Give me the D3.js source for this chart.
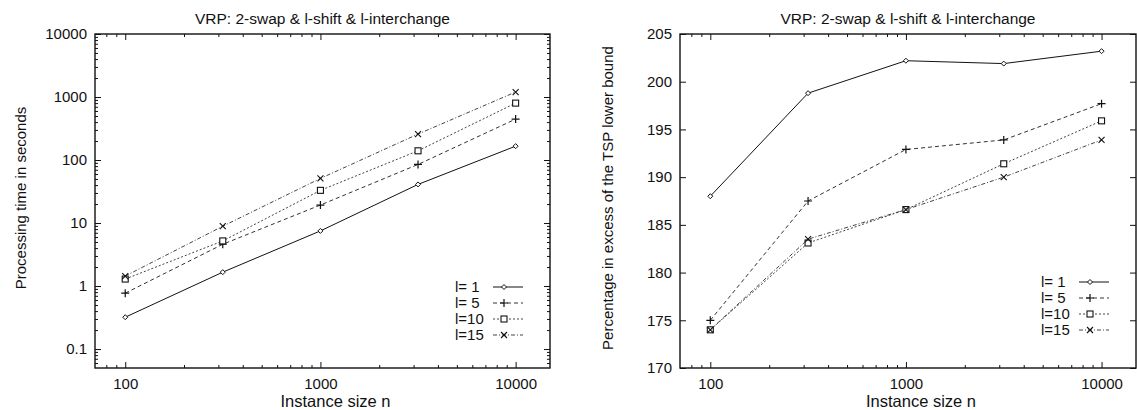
<!DOCTYPE html>
<html>
<head>
<meta charset="utf-8">
<script src="https://cdn.jsdelivr.net/npm/d3@7"></script>
<style>
  body { margin: 0; background: #fff; }
  text { font-family: "Liberation Sans", Arial, sans-serif; fill: #111; }
</style>
</head>
<body>
<svg id="chart" width="1137" height="410"></svg>
<script>
// instance sizes (x) and the four neighbourhood settings
var sizes = [100, 316, 1000, 3162, 10000];
var seriesNames = ["l= 1", "l= 5", "l=10", "l=15"];

// left panel: processing time in seconds
var timeL1 = [0.32, 1.66, 7.5, 41, 166];
var timeL5 = [0.77, 4.6, 19.3, 85, 446];
var timeL10 = [1.29, 5.2, 33, 140, 800];
var timeL15 = [1.44, 8.9, 51, 258, 1200];

// right panel: percentage in excess of the TSP lower bound
var excessL1 = [188, 198.8, 202.2, 201.9, 203.2];
var excessL5 = [175, 187.5, 192.9, 193.9, 197.7];
var excessL10 = [174, 183.1, 186.6, 191.4, 195.9];
var excessL15 = [174, 183.5, 186.6, 190, 193.9];

// tick labels
var sizeTicks = [100, 1000, 10000];
var timeTicks = [0.1, 1, 10, 100, 1000, 10000];
var excessTicks = [170, 175, 180, 185, 190, 195, 200, 205];

var svg = d3.select("#chart");
var plotTop = 34, plotBottom = 368;

// gnuplot-ish line types
var styles = [
  { dash: null, mark: "diamond", color: "#111" },
  { dash: "4,3", mark: "plus", color: "#333" },
  { dash: "2,2", mark: "square", color: "#444" },
  { dash: "4,2,1,2", mark: "cross", color: "#444" }
];

function minorLog(lo, hi) {
  var out = [];
  for (var e = -3; e <= 5; e++) {
    for (var d = 2; d <= 9; d++) {
      var v = d * Math.pow(10, e);
      if (v > lo && v < hi) out.push(v);
    }
  }
  return out;
}

function drawMarker(g, type, cx, cy) {
  if (type == "diamond") {
    g.append("path")
      .attr("d", "M" + cx + "," + (cy - 2.5) + "L" + (cx + 2.5) + "," + cy + "L" + cx + "," + (cy + 2.5) + "L" + (cx - 2.5) + "," + cy + "Z")
      .attr("fill", "#fff").attr("stroke", "#111").attr("stroke-width", 1);
  } else if (type == "plus") {
    g.append("path")
      .attr("d", "M" + (cx - 4) + "," + cy + "H" + (cx + 4) + "M" + cx + "," + (cy - 4) + "V" + (cy + 4))
      .attr("stroke", "#111").attr("stroke-width", 1.2);
  } else if (type == "square") {
    g.append("rect")
      .attr("x", cx - 3).attr("y", cy - 3).attr("width", 6).attr("height", 6)
      .attr("fill", "#fff").attr("stroke", "#111").attr("stroke-width", 1.1);
  } else {
    g.append("path")
      .attr("d", "M" + (cx - 3) + "," + (cy - 3) + "L" + (cx + 3) + "," + (cy + 3) + "M" + (cx - 3) + "," + (cy + 3) + "L" + (cx + 3) + "," + (cy - 3))
      .attr("stroke", "#111").attr("stroke-width", 1.1);
  }
}

function panel(o) {
  var g = svg.append("g");
  var x = d3.scaleLog().domain([70, 15000]).range([o.left, o.right]);
  var y = (o.logY ? d3.scaleLog() : d3.scaleLinear()).domain(o.yDomain).range([plotBottom, plotTop]);

  function tickAxis(axis, tx, ty) {
    var a = g.append("g").attr("transform", "translate(" + tx + "," + ty + ")").call(axis);
    a.select(".domain").remove();
    a.selectAll("line").attr("stroke", "#111");
    a.selectAll("text").attr("font-size", 15).attr("fill", "#111")
      .attr("font-family", "Liberation Sans, Arial, sans-serif");
    return a;
  }

  // x axis (bottom with labels, top mirrored)
  var xMinor = minorLog(70, 15000);
  tickAxis(d3.axisBottom(x).tickValues(sizeTicks).tickFormat(d3.format("d")).tickSize(-6).tickPadding(10), 0, plotBottom);
  tickAxis(d3.axisBottom(x).tickValues(xMinor).tickFormat("").tickSize(-3), 0, plotBottom);
  tickAxis(d3.axisTop(x).tickValues(sizeTicks).tickFormat("").tickSize(-6), 0, plotTop);
  tickAxis(d3.axisTop(x).tickValues(xMinor).tickFormat("").tickSize(-3), 0, plotTop);

  // y axis (left with labels, right mirrored)
  tickAxis(d3.axisLeft(y).tickValues(o.yTicks).tickFormat(d3.format("~g")).tickSize(-6).tickPadding(8), o.left, 0);
  tickAxis(d3.axisRight(y).tickValues(o.yTicks).tickFormat("").tickSize(-6), o.right, 0);
  if (o.logY) {
    var yMinor = minorLog(o.yDomain[0], o.yDomain[1]);
    tickAxis(d3.axisLeft(y).tickValues(yMinor).tickFormat("").tickSize(-3), o.left, 0);
    tickAxis(d3.axisRight(y).tickValues(yMinor).tickFormat("").tickSize(-3), o.right, 0);
  }

  // frame
  g.append("rect")
    .attr("x", o.left).attr("y", plotTop)
    .attr("width", o.right - o.left).attr("height", plotBottom - plotTop)
    .attr("fill", "none").attr("stroke", "#111").attr("stroke-width", 1.4);

  var line = d3.line()
    .x(function (d) { return x(d[0]); })
    .y(function (d) { return y(d[1]); });

  o.series.forEach(function (vals, i) {
    var pts = sizes.map(function (s, j) { return [s, vals[j]]; });
    g.append("path")
      .datum(pts)
      .attr("d", line)
      .attr("fill", "none")
      .attr("stroke", styles[i].color)
      .attr("stroke-width", 1)
      .attr("stroke-dasharray", styles[i].dash);
    pts.forEach(function (p) {
      drawMarker(g, styles[i].mark, x(p[0]), y(p[1]));
    });

    // legend row
    var ly = o.legendY + i * 16;
    g.append("text")
      .attr("x", o.right - 95).attr("y", ly).attr("dy", "0.36em")
      .attr("font-size", 15)
      .text(seriesNames[i]);
    var sx = o.right - 57;
    g.append("line")
      .attr("x1", sx).attr("x2", sx + 30).attr("y1", ly).attr("y2", ly)
      .attr("stroke", styles[i].color).attr("stroke-width", 1)
      .attr("stroke-dasharray", styles[i].dash);
    drawMarker(g, styles[i].mark, sx + 11, ly);
  });

  var cx = (o.left + o.right) / 2;
  g.append("text")
    .attr("x", cx).attr("y", 24)
    .attr("text-anchor", "middle").attr("font-size", 15.5)
    .text("VRP: 2-swap & l-shift & l-interchange");

  g.append("text")
    .attr("x", cx + 13).attr("y", 407)
    .attr("text-anchor", "middle").attr("font-size", 16.5)
    .text("Instance size n");

  g.append("text")
    .attr("transform", "translate(" + o.yLabelX + ",198) rotate(-90)")
    .attr("text-anchor", "middle").attr("font-size", 15)
    .text(o.yLabel);
}

panel({
  left: 95, right: 550,
  logY: true, yDomain: [0.05, 10000], yTicks: timeTicks,
  series: [timeL1, timeL5, timeL10, timeL15],
  legendY: 287,
  yLabel: "Processing time in seconds", yLabelX: 26
});

panel({
  left: 680, right: 1136,
  logY: false, yDomain: [170, 205], yTicks: excessTicks,
  series: [excessL1, excessL5, excessL10, excessL15],
  legendY: 282,
  yLabel: "Percentage in excess of the TSP lower bound", yLabelX: 613
});
</script>
</body>
</html>
